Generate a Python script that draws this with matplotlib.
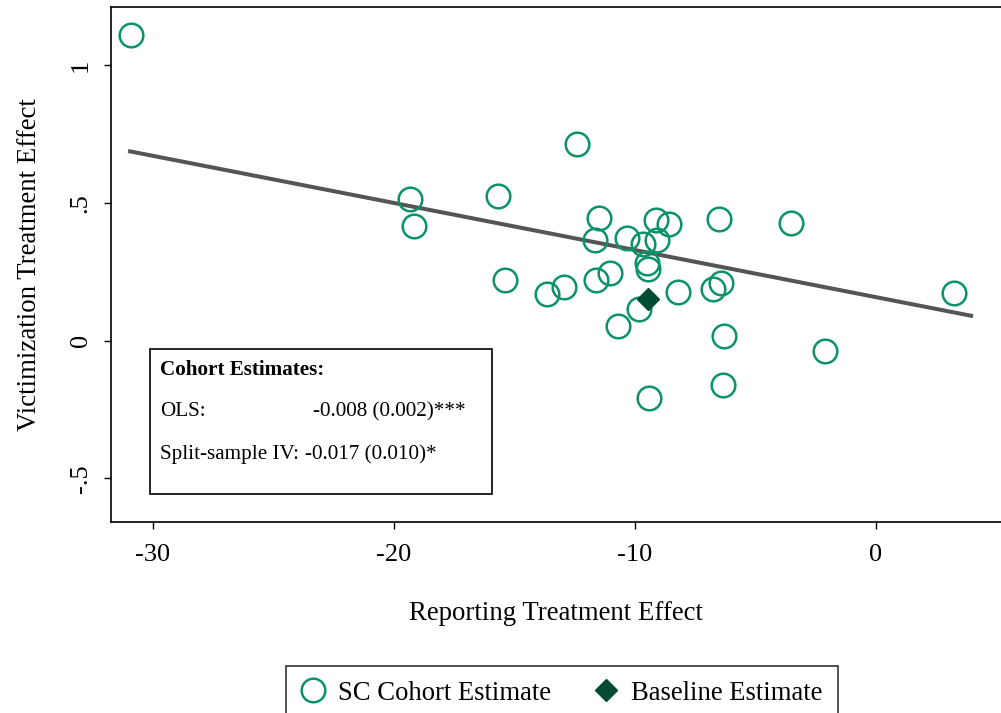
import matplotlib
matplotlib.use("Agg")
import matplotlib.pyplot as plt
from matplotlib.patches import Rectangle
from matplotlib.lines import Line2D

plt.rcParams['font.family'] = ['Liberation Serif', 'DejaVu Serif']

# cohort estimates (reporting effect, victimization effect)
cohort_x = [-30.89, -19.32, -19.18, -15.69, -15.40, -13.62, -12.93, -12.39,
            -11.59, -11.47, -11.63, -11.02, -10.70, -10.32, -9.81, -9.65,
            -9.49, -9.43, -9.39, -9.10, -9.08, -8.58, -8.22, -6.73,
            -6.48, -6.41, -6.30, -6.34, -3.52, -2.10, 3.26]
cohort_y = [1.109, 0.513, 0.417, 0.525, 0.220, 0.169, 0.194, 0.713,
            0.219, 0.447, 0.365, 0.244, 0.052, 0.373, 0.114, 0.350,
            0.280, 0.260, -0.210, 0.438, 0.365, 0.422, 0.175, 0.187,
            0.440, 0.208, 0.017, -0.160, 0.428, -0.037, 0.173]

# baseline estimate
base_x = [-9.46]
base_y = [0.150]

# fitted line
fit_slope = -0.0171
fit_intercept = 0.158
fit_range = [-31.03, 4.05]

xticks = [-30, -20, -10, 0]
yticks = [-0.5, 0, 0.5, 1]
ytick_labels = ['-.5', '0', '.5', '1']

green = '#0a936a'
dark_green = '#004b33'

fig = plt.figure(figsize=(10.01, 7.13), dpi=100)
ax = fig.add_axes([111 / 1001, 1 - 522 / 713, 1 - 111 / 1001, (522 - 7) / 713])

fit_y = [fit_intercept + fit_slope * v for v in fit_range]
ax.plot(fit_range, fit_y, color='#555555', lw=2.9, solid_capstyle='butt', zorder=2)

ax.plot(cohort_x, cohort_y, ls='none', marker='o', ms=17, mfc='none',
        mec=green, mew=1.8, zorder=3)
ax.plot(base_x, base_y, ls='none', marker='D', ms=11.5, mfc=dark_green,
        mec=dark_green, zorder=4)

ax.set_xlim(-31.74, 5.21)
ax.set_ylim(-0.659, 1.2116)

ax.spines['right'].set_visible(False)
for s in ['left', 'bottom', 'top']:
    ax.spines[s].set_linewidth(1.2)

ax.set_xticks(xticks)
ax.set_xticklabels([str(v) for v in xticks])
ax.set_yticks(yticks)
ax.set_yticklabels(ytick_labels, rotation=90, va='center')
ax.tick_params(axis='both', length=5, width=1, labelsize=19)
ax.tick_params(axis='x', pad=11)
ax.tick_params(axis='y', pad=9)

ax.set_xlabel('Reporting Treatment Effect', fontsize=19.3, labelpad=25)
ax.set_ylabel('Victimization Treatment Effect', fontsize=19.3, labelpad=20)

# estimates box
fig.patches.append(Rectangle((150 / 1001, 1 - 494 / 713), 342 / 1001, 145 / 713,
                             transform=fig.transFigure, facecolor='white',
                             edgecolor='black', lw=1.2, zorder=5))
fs_box = 15.2
tx = 160 / 1001
fig.text(tx, 1 - 370 / 713, 'Cohort Estimates:', fontsize=fs_box,
         fontweight='bold', va='center', zorder=6)
fig.text(tx, 1 - 412 / 713, 'OLS:', fontsize=fs_box, va='center', zorder=6)
fig.text(313 / 1001, 1 - 412 / 713, '-0.008 (0.002)***', fontsize=fs_box,
         va='center', zorder=6)
fig.text(tx, 1 - 455 / 713, 'Split-sample IV:', fontsize=fs_box, va='center',
         zorder=6)
fig.text(305 / 1001, 1 - 455 / 713, '-0.017 (0.010)*', fontsize=fs_box,
         va='center', zorder=6)

handles = [
    Line2D([], [], ls='none', marker='o', ms=17, mfc='none', mec=green, mew=1.8),
    Line2D([], [], ls='none', marker='D', ms=11.5, mfc=dark_green, mec=dark_green),
]
leg = fig.legend(handles, ['SC Cohort Estimate', 'Baseline Estimate'],
                 loc='upper center', bbox_to_anchor=(562 / 1001, 1 - 666 / 713),
                 ncol=2, fontsize=19.2, frameon=True, fancybox=False,
                 edgecolor='black', borderpad=0.55, handlelength=0.9,
                 handletextpad=0.5, columnspacing=1.6, borderaxespad=0)
leg.get_frame().set_linewidth(1.2)

fig.savefig('out.png', dpi=100)
